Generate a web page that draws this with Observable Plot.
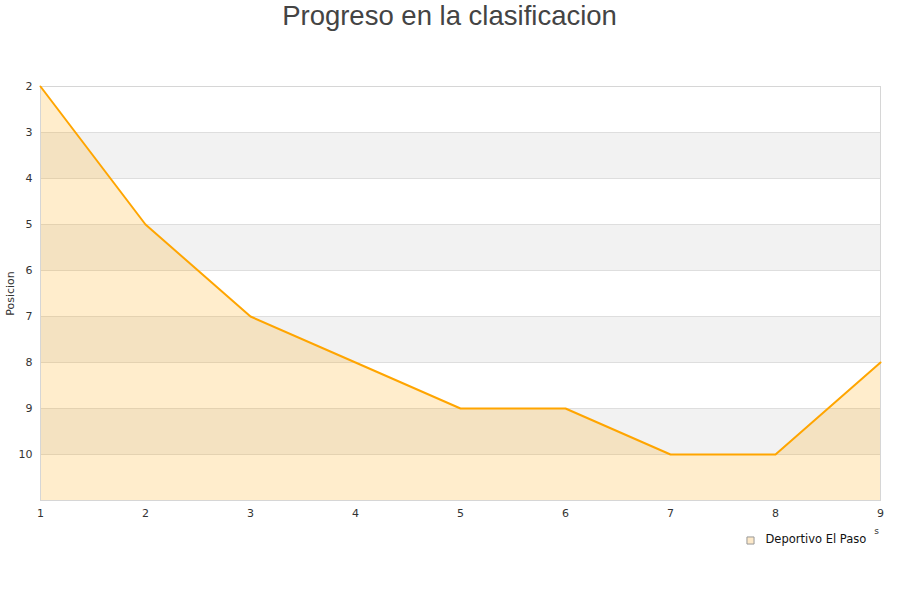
<!DOCTYPE html>
<html>
<head>
<meta charset="utf-8">
<script src="https://cdn.jsdelivr.net/npm/d3@7"></script>
<script src="https://cdn.jsdelivr.net/npm/@observablehq/plot@0.6"></script>
<style>
body { margin: 0; background: #fff; }
#chart svg { display: block; }
</style>
</head>
<body>
<div id="chart"></div>
<script>
const jornadas = [1, 2, 3, 4, 5, 6, 7, 8, 9];
const posiciones = [2, 5, 7, 8, 9, 9, 10, 10, 8];
const yTicks = [2, 3, 4, 5, 6, 7, 8, 9, 10];
const bandStarts = [3, 5, 7, 9];
const seriesName = "Deportivo El Paso";
const titleText = "Progreso en la clasificacion";
const yLabel = "Posicion";
const xLabelFragment = "s";

const data = jornadas.map((j, i) => ({ j, p: posiciones[i] }));
const bands = bandStarts.map(b => ({ y1: b, y2: b + 1 }));

const plot = Plot.plot({
  width: 900,
  height: 600,
  marginTop: 86,
  marginBottom: 100,
  marginLeft: 40,
  marginRight: 20,
  style: { fontFamily: "DejaVu Sans, sans-serif", fontSize: "11px", color: "#333", background: "#fff" },
  x: { domain: [1, 9], ticks: jornadas, tickFormat: d => String(d), label: null },
  y: { domain: [2, 11], reverse: true, ticks: yTicks, label: null },
  marks: [
    Plot.rect(bands, { x1: 1, x2: 9, y1: "y1", y2: "y2", fill: "#f2f2f2" }),
    Plot.ruleY(yTicks.slice(1), { stroke: "#dedede", strokeWidth: 1 }),
    Plot.areaY(data, { x: "j", y1: 11, y2: "p", fill: "orange", fillOpacity: 0.2 }),
    Plot.frame({ stroke: "#d6d6d6" }),
    Plot.line(data, { x: "j", y: "p", stroke: "orange", strokeWidth: 2 }),
    Plot.axisY({ ticks: yTicks, tickSize: 0, tickPadding: 8, label: null, tickFormat: d => String(d) }),
    Plot.axisX({ ticks: jornadas, tickSize: 0, tickPadding: 9, label: null, tickFormat: d => String(d) }),
    Plot.text([yLabel], { frameAnchor: "left", dx: -30, rotate: -90, textAnchor: "middle", text: d => d, fontSize: 11, fill: "#333" }),
    Plot.text([xLabelFragment], { frameAnchor: "bottom-right", dx: -4, dy: 33, text: d => d, textAnchor: "middle", fontSize: 9, fill: "#333" }),
    Plot.text([titleText], { frameAnchor: "top", dx: -11, dy: -70, text: d => d, fontSize: 27.5, fill: "#444", fontFamily: "Liberation Sans, Arial, sans-serif", lineAnchor: "middle" }),
    Plot.dot([seriesName], { frameAnchor: "bottom-right", dx: -130, dy: 40, symbol: "square", r: 4, fill: "#fde9c9", stroke: "#999", strokeWidth: 1 }),
    Plot.text([seriesName], { frameAnchor: "bottom-right", dx: -115, dy: 42, text: d => d, textAnchor: "start", fontSize: 11.5, fill: "#111" })
  ]
});
document.getElementById("chart").appendChild(plot);
</script>
</body>
</html>
